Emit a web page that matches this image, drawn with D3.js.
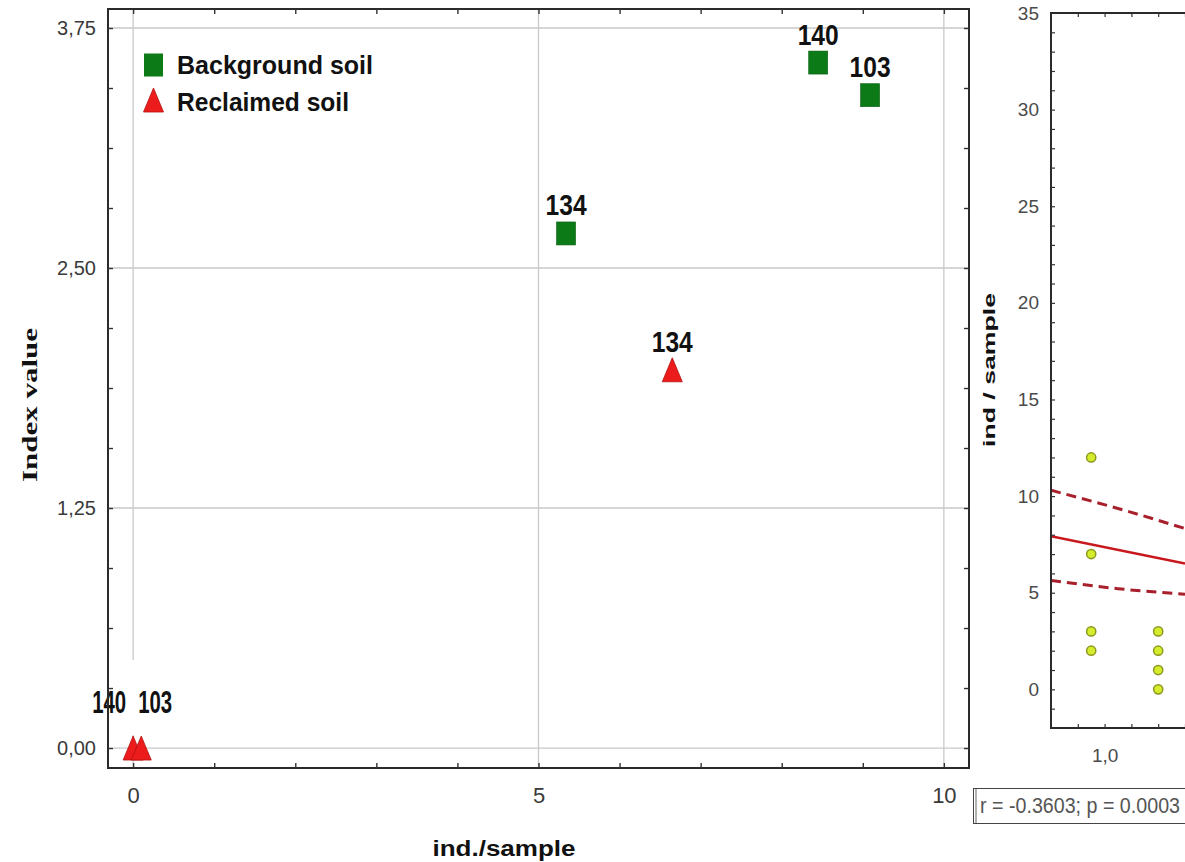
<!DOCTYPE html>
<html><head><meta charset="utf-8">
<script src="https://cdn.jsdelivr.net/npm/d3@7"></script>
<style>body{margin:0;background:#fff}svg{display:block}</style>
</head><body>
<svg id="fig" width="1185" height="862"></svg>
<script>
// Index value against invertebrate density, background vs reclaimed soil
const backgroundIds = ["134", "140", "103"];
const backgroundX = [5.34, 8.45, 9.09];
const backgroundY = [2.68, 3.57, 3.40];
const reclaimedIds = ["140", "103", "134"];
const reclaimedX = [0.0, 0.1, 6.65];
const reclaimedY = [0.0, 0.0, 1.97];
const xTickValues = [0, 5, 10];
const xTickLabels = ["0", "5", "10"];
const yTickValues = [0, 1.25, 2.5, 3.75];
const yTickLabels = ["0,00", "1,25", "2,50", "3,75"];
const legendLabels = ["Background soil", "Reclaimed soil"];

// Correlation panel: density per sample vs factor
const densityX = [0.95, 0.95, 0.95, 0.95, 1.2, 1.2, 1.2, 1.2];
const densityY = [12, 7, 3, 2, 3, 2, 1, 0];
const fitX = [0.8, 1.3];
const fitY = [7.92, 6.51];
const bandX = [0.8, 1.05, 1.3];
const bandUpper = [10.3, 9.36, 8.32];
const bandLower = [5.64, 5.21, 4.92];
const densityTickValues = [0, 5, 10, 15, 20, 25, 30, 35];
const factorTickValues = [1.0];
const factorTickLabels = ["1,0"];
const statsText = "r = -0.3603;  p = 0.0003";

const svg = d3.select("#fig");
const SANS = "'Liberation Sans', Arial, sans-serif";
const NARROW = "'Liberation Sans Narrow', 'Arial Narrow', 'Liberation Sans', Arial, sans-serif";
const GREEN = "#0c7a16", RED = "#ec1c1c";

// ---------- main scatter ----------
const M = {left: 108, right: 969, top: 9, bottom: 768};
const x = d3.scaleLinear().domain([-0.31, 10.31]).range([M.left, M.right]);
const y = d3.scaleLinear().domain([-0.104, 3.849]).range([M.bottom, M.top]);
const main = svg.append("g");

main.append("rect").attr("x", M.left).attr("y", M.top)
  .attr("width", M.right - M.left).attr("height", M.bottom - M.top).attr("fill", "#fff");

const grid = main.append("g").attr("stroke", "#c9c9c9").attr("stroke-width", 1.3);
grid.selectAll("line.v").data(xTickValues).join("line").attr("class", "v")
  .attr("x1", d => x(d)).attr("x2", d => x(d)).attr("y1", M.top).attr("y2", M.bottom);
grid.selectAll("line.h").data(yTickValues).join("line").attr("class", "h")
  .attr("x1", M.left).attr("x2", M.right).attr("y1", d => y(d)).attr("y2", d => y(d));

const squareW = 19, squareH = 23;
const triPath = "M0,-12L10,12L-10,12Z";
const bg = backgroundIds.map((id, i) => ({id, px: x(backgroundX[i]), py: y(backgroundY[i])}));
const rc = reclaimedIds.map((id, i) => ({id, px: x(reclaimedX[i]), py: y(reclaimedY[i])}));

// point labels sit above their marker; coincident markers get their labels split apart
function placeLabels(pts) {
  pts.forEach(p => { p.lx = p.px; p.ly = p.py - 18; p.anchor = "middle"; p.cluster = false; });
  for (let i = 0; i < pts.length; i++) for (let j = i + 1; j < pts.length; j++) {
    const a = pts[i], b = pts[j];
    if (Math.abs(a.px - b.px) < 30 && Math.abs(a.py - b.py) < 30) {
      const [l, r] = a.px <= b.px ? [a, b] : [b, a];
      const mid = (l.px + r.px) / 2;
      l.lx = mid - 11; l.anchor = "end";
      r.lx = mid + 1; r.anchor = "start";
      l.ly = r.ly = Math.min(l.py, r.py) - 35;
      l.cluster = r.cluster = true;
    }
  }
}
placeLabels(bg); placeLabels(rc);

const labelLayer = main.append("g");
// white box behind split labels
const clustered = rc.filter(p => p.cluster);
if (clustered.length) {
  const minX = d3.min(clustered, p => p.anchor === "end" ? p.lx - 37 : p.lx - 2);
  const maxX = d3.max(clustered, p => p.anchor === "start" ? p.lx + 37 : p.lx + 2);
  const top = d3.min(clustered, p => p.ly) - 53;
  const bottom = d3.min(clustered, p => p.py) - 13;
  labelLayer.append("rect").attr("x", minX).attr("y", top)
    .attr("width", maxX - minX).attr("height", bottom - top).attr("fill", "#fff");
}

main.append("g").selectAll("rect").data(bg).join("rect")
  .attr("x", d => d.px - squareW / 2).attr("y", d => d.py - squareH / 2)
  .attr("width", squareW).attr("height", squareH)
  .attr("fill", GREEN).attr("stroke", "#0a5e12").attr("stroke-width", 0.6);
main.append("g").selectAll("path").data(rc).join("path")
  .attr("d", triPath).attr("transform", d => `translate(${d.px},${d.py})`)
  .attr("fill", RED).attr("stroke", "#b31010").attr("stroke-width", 0.8);

function drawLabels(pts) {
  labelLayer.append("g").selectAll("text").data(pts).join("text")
    .attr("x", d => d.lx).attr("y", d => d.ly)
    .attr("text-anchor", d => d.anchor)
    .attr("font-family", NARROW).attr("font-weight", "bold")
    .attr("font-size", d => d.cluster ? 32 : 30)
    .attr("textLength", d => d.cluster ? 34 : 41).attr("lengthAdjust", "spacingAndGlyphs")
    .attr("fill", "#111").text(d => d.id);
}
drawLabels(bg); drawLabels(rc);

// frame and inward ticks
main.append("rect").attr("x", M.left).attr("y", M.top)
  .attr("width", M.right - M.left).attr("height", M.bottom - M.top)
  .attr("fill", "none").attr("stroke", "#2b2b2b").attr("stroke-width", 2);

const xMinor = d3.range(0, 11, 1);
const yMinor = d3.range(0, 3.76, 0.3125);
function styleAxis(g) {
  g.select(".domain").remove();
  g.selectAll(".tick line").attr("stroke", "#333").attr("stroke-width", 1.4);
  g.selectAll(".tick text").attr("font-family", SANS).attr("fill", "#3a3a3a");
}
main.append("g").attr("transform", `translate(0,${M.bottom})`)
  .call(d3.axisBottom(x).tickValues(xMinor).tickSize(-5).tickFormat(""))
  .call(styleAxis);
main.append("g").attr("transform", `translate(0,${M.bottom})`)
  .call(d3.axisBottom(x).tickValues(xTickValues).tickSize(0).tickPadding(19)
    .tickFormat((d, i) => xTickLabels[i]))
  .call(styleAxis).call(g => g.selectAll("text").attr("font-size", 22));
main.append("g").attr("transform", `translate(0,${M.top})`)
  .call(d3.axisTop(x).tickValues(xMinor).tickSize(-5).tickFormat(""))
  .call(styleAxis);
main.append("g").attr("transform", `translate(${M.left},0)`)
  .call(d3.axisLeft(y).tickValues(yMinor).tickSize(-5).tickPadding(12)
    .tickFormat(d => { const k = yTickValues.findIndex(v => Math.abs(v - d) < 1e-6); return k >= 0 ? yTickLabels[k] : ""; }))
  .call(styleAxis).call(g => g.selectAll("text").attr("font-size", 20));
main.append("g").attr("transform", `translate(${M.right},0)`)
  .call(d3.axisRight(y).tickValues(yMinor).tickSize(-5).tickFormat(""))
  .call(styleAxis);

// legend
const legend = main.append("g");
legend.append("rect").attr("x", 144).attr("y", 65 - squareH / 2)
  .attr("width", squareW).attr("height", squareH).attr("fill", GREEN);
legend.append("path").attr("d", triPath).attr("transform", "translate(153.5,100)")
  .attr("fill", RED).attr("stroke", "#b31010").attr("stroke-width", 0.8);
legend.selectAll("text").data(legendLabels).join("text")
  .attr("x", 177).attr("y", (d, i) => i === 0 ? 74 : 111)
  .attr("font-family", SANS).attr("font-weight", "bold").attr("font-size", 26)
  .attr("textLength", (d, i) => i === 0 ? 196 : 172).attr("lengthAdjust", "spacingAndGlyphs")
  .attr("fill", "#111").text(d => d);

// axis titles
main.append("text").attr("transform", "translate(37,405) rotate(-90)")
  .attr("text-anchor", "middle").attr("font-family", "'Liberation Serif', 'Times New Roman', serif")
  .attr("font-weight", "bold").attr("font-size", 22)
  .attr("textLength", 154).attr("lengthAdjust", "spacingAndGlyphs")
  .attr("fill", "#111").text("Index value");
main.append("text").attr("x", 504).attr("y", 856).attr("text-anchor", "middle")
  .attr("font-family", SANS).attr("font-weight", "bold").attr("font-size", 22)
  .attr("textLength", 143).attr("lengthAdjust", "spacingAndGlyphs")
  .attr("fill", "#111").text("ind./sample");

// ---------- correlation panel ----------
const R = {left: 1051, top: 13, bottom: 728};
const rx = d3.scaleLinear().domain([0.8, 1.4]).range([R.left, R.left + 0.6 * 268]);
const ry = d3.scaleLinear().domain([-2, 35]).range([R.bottom, R.top]);
R.right = rx(1.4);
const side = svg.append("g");
side.append("defs").append("clipPath").attr("id", "sideClip")
  .append("rect").attr("x", R.left).attr("y", R.top)
  .attr("width", R.right - R.left).attr("height", R.bottom - R.top);
const plot = side.append("g").attr("clip-path", "url(#sideClip)");

const line = d3.line().x(d => rx(d[0])).y(d => ry(d[1])).curve(d3.curveMonotoneX);
plot.append("path").datum(bandX.map((v, i) => [v, bandUpper[i]])).attr("d", line)
  .attr("fill", "none").attr("stroke", "#a8202c").attr("stroke-width", 3).attr("stroke-dasharray", "10,6");
plot.append("path").datum(bandX.map((v, i) => [v, bandLower[i]])).attr("d", line)
  .attr("fill", "none").attr("stroke", "#a8202c").attr("stroke-width", 3).attr("stroke-dasharray", "10,6");
plot.append("path").datum(fitX.map((v, i) => [v, fitY[i]])).attr("d", line)
  .attr("fill", "none").attr("stroke", "#c8181e").attr("stroke-width", 2.5);
plot.selectAll("circle").data(densityX.map((v, i) => [v, densityY[i]])).join("circle")
  .attr("cx", d => rx(d[0])).attr("cy", d => ry(d[1])).attr("r", 4.6)
  .attr("fill", "#d4ec2c").attr("stroke", "#8c9820").attr("stroke-width", 1.5);

side.append("rect").attr("x", R.left).attr("y", R.top)
  .attr("width", R.right - R.left).attr("height", R.bottom - R.top)
  .attr("fill", "none").attr("stroke", "#2b2b2b").attr("stroke-width", 2);

function styleSide(g) {
  g.select(".domain").remove();
  g.selectAll(".tick line").attr("stroke", "#333").attr("stroke-width", 1.2);
  g.selectAll(".tick text").attr("font-family", SANS).attr("fill", "#4a4a4a").attr("font-size", 19);
}
const rMinorY = d3.range(-1, 35, 1);
side.append("g").attr("transform", `translate(${R.left},0)`)
  .call(d3.axisLeft(ry).tickValues(rMinorY).tickSize(-4).tickFormat(""))
  .call(styleSide);
side.append("g").attr("transform", `translate(${R.left},0)`)
  .call(d3.axisLeft(ry).tickValues(densityTickValues).tickSize(0).tickPadding(12).tickFormat(d3.format("d")))
  .call(styleSide);
const rMinorX = d3.range(0.9, 1.41, 0.1);
side.append("g").attr("transform", `translate(0,${R.bottom})`)
  .call(d3.axisBottom(rx).tickValues(rMinorX).tickSize(-4).tickFormat(""))
  .call(styleSide);
side.append("g").attr("transform", `translate(0,${R.top})`)
  .call(d3.axisTop(rx).tickValues(rMinorX).tickSize(-4).tickFormat(""))
  .call(styleSide);
side.append("g").attr("transform", `translate(0,${R.bottom})`)
  .call(d3.axisBottom(rx).tickValues(factorTickValues).tickSize(0).tickPadding(21)
    .tickFormat((d, i) => factorTickLabels[i]))
  .call(styleSide);

side.append("text").attr("transform", "translate(995,370) rotate(-90)")
  .attr("text-anchor", "middle").attr("font-family", SANS).attr("font-weight", "bold")
  .attr("font-size", 17).attr("textLength", 154).attr("lengthAdjust", "spacingAndGlyphs")
  .attr("fill", "#111").text("ind / sample");

// statistics box
side.append("rect").attr("x", 973.5).attr("y", 788.5).attr("width", 240).attr("height", 35)
  .attr("fill", "#fff").attr("stroke", "#444").attr("stroke-width", 1);
side.append("line").attr("x1", 976).attr("x2", 976).attr("y1", 789).attr("y2", 823)
  .attr("stroke", "#999").attr("stroke-width", 1.5);
side.append("text").attr("x", 980).attr("y", 813)
  .attr("font-family", SANS).attr("font-size", 22)
  .attr("textLength", 200).attr("lengthAdjust", "spacingAndGlyphs")
  .attr("fill", "#555").text(statsText);
</script>
</body></html>
